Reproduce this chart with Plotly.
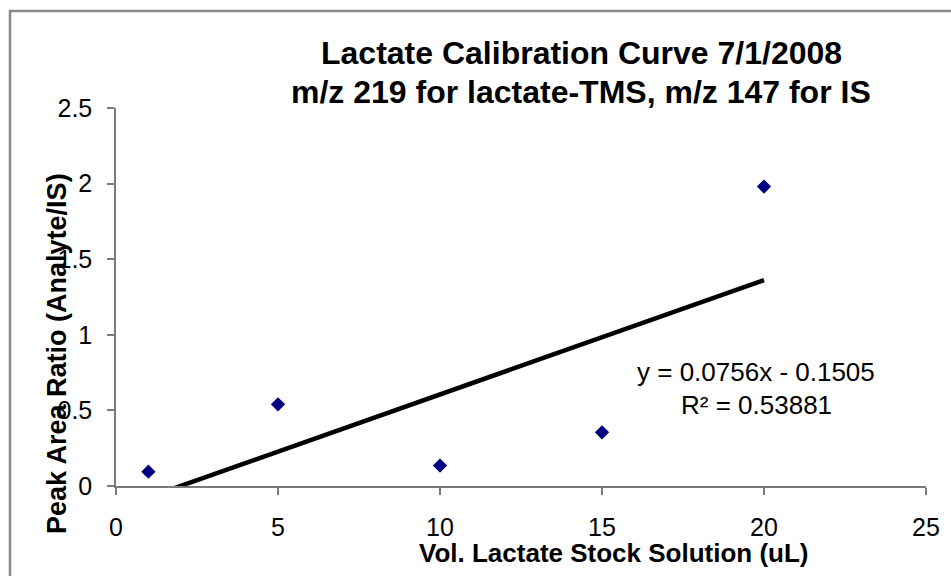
import plotly.graph_objects as go

# Data
vol_ul = [1, 5, 10, 15, 20]
peak_ratio = [0.095, 0.54, 0.135, 0.355, 1.98]
slope = 0.0756
intercept = -0.1505
trend_x = [1, 20]
trend_y = [slope * x + intercept for x in trend_x]

title_line1 = "Lactate Calibration Curve 7/1/2008"
title_line2 = "m/z 219 for lactate-TMS, m/z 147 for IS"
eq_line1 = "y = 0.0756x - 0.1505"
eq_line2 = "R² = 0.53881"
x_title = "Vol. Lactate Stock Solution (uL)"
y_title = "Peak Area Ratio (Analyte/IS)"
x_ticks = [0, 5, 10, 15, 20, 25]
y_ticks = [0, 0.5, 1, 1.5, 2, 2.5]
y_ticktext = ["0", "0.5", "1", "1.5", "2", "2.5"]

FONT = "Liberation Sans, Arial, Helvetica, sans-serif"

# pixel layout helpers
L, R, T, B = 116, 926, 108, 486
W, H = 951, 576
def px(xp):
    return (xp - L) / (R - L)
def py(yp):
    return (B - yp) / (B - T)

fig = go.Figure()
fig.add_trace(go.Scatter(
    x=trend_x, y=trend_y, mode="lines",
    line=dict(color="black", width=4.5), hoverinfo="skip", showlegend=False,
))
fig.add_trace(go.Scatter(
    x=vol_ul, y=peak_ratio, mode="markers",
    marker=dict(symbol="diamond", size=11, color="#000080"),
    showlegend=False,
))

axis_common = dict(
    showgrid=False, zeroline=False, showline=True, linecolor="#7a7a7a", linewidth=1.5,
    ticks="outside", ticklen=7, tickwidth=1.5, tickcolor="#7a7a7a",
    tickfont=dict(family=FONT, size=25, color="black"),
)
fig.update_xaxes(range=[0, 25], tickvals=x_ticks, ticklabelstandoff=11, **axis_common)
fig.update_yaxes(range=[0, 2.5], tickvals=y_ticks, ticktext=y_ticktext,
                 ticklabelstandoff=10, **axis_common)

ann = []
ann.append(dict(text=f"<b>{title_line1}</b>", x=px(581), y=py(53), xref="paper", yref="paper",
                showarrow=False, xanchor="center", yanchor="middle",
                font=dict(family=FONT, size=32, color="black")))
ann.append(dict(text=f"<b>{title_line2}</b>", x=px(581), y=py(92), xref="paper", yref="paper",
                showarrow=False, xanchor="center", yanchor="middle",
                font=dict(family=FONT, size=32, color="black")))
ann.append(dict(text=eq_line1, x=px(756), y=py(372), xref="paper", yref="paper",
                showarrow=False, xanchor="center", yanchor="middle",
                font=dict(family=FONT, size=26, color="black")))
ann.append(dict(text=eq_line2, x=px(756), y=py(405), xref="paper", yref="paper",
                showarrow=False, xanchor="center", yanchor="middle",
                font=dict(family=FONT, size=26, color="black")))
ann.append(dict(text=f"<b>{x_title}</b>", x=px(614), y=py(553), xref="paper", yref="paper",
                showarrow=False, xanchor="center", yanchor="middle",
                font=dict(family=FONT, size=26, color="black")))
ann.append(dict(text=f"<b>{y_title}</b>", x=px(57), y=py(354), xref="paper", yref="paper",
                showarrow=False, xanchor="center", yanchor="middle", textangle=-90,
                font=dict(family=FONT, size=27, color="black")))

fig.update_layout(
    width=W, height=H,
    margin=dict(l=L, r=W - R, t=T, b=H - B, pad=0),
    paper_bgcolor="white", plot_bgcolor="white",
    annotations=ann,
    shapes=[dict(type="rect", xref="paper", yref="paper",
                 x0=px(10), x1=px(980), y0=py(620), y1=py(11),
                 line=dict(color="#8a8a8a", width=2.5), layer="below")],
)

fig.write_html("out.html", config={"displayModeBar": False},
               post_script="document.body.style.margin='0';document.body.style.overflow='hidden';")
